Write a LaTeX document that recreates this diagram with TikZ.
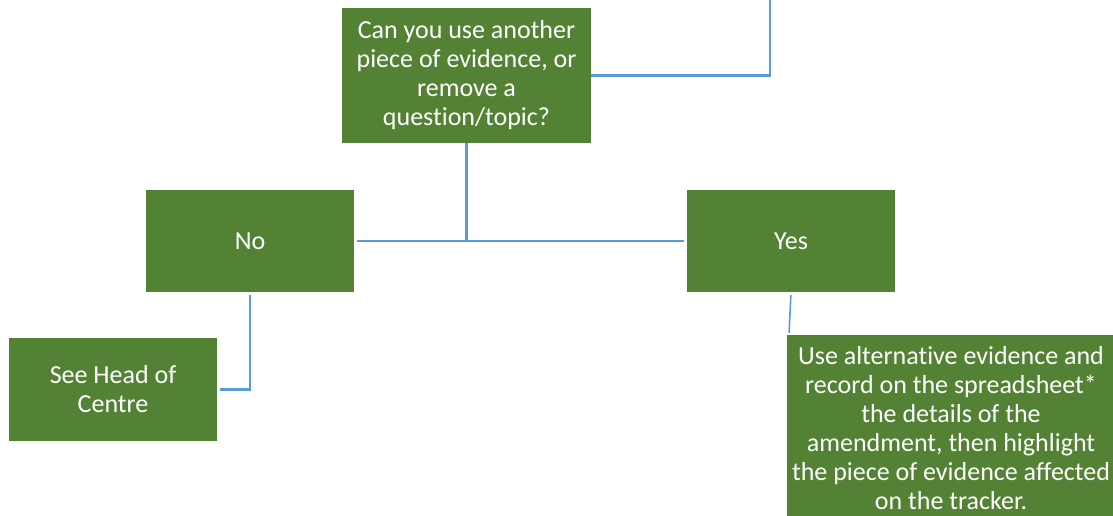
\documentclass[tikz,border=0pt]{standalone}
\usepackage{fontspec}
\setmainfont{Carlito}[Ligatures=NoCommon]
\usepackage{xcolor}
\definecolor{boxgreen}{HTML}{548235}
\definecolor{lineblue}{HTML}{5B9BD5}
\usetikzlibrary{calc,positioning}

\begin{document}
\begin{tikzpicture}[x=1pt,y=-1pt,
    greenbox/.style={fill=boxgreen, draw=none, text=white, align=center,
        inner sep=0pt, font=\fontsize{26}{29}\selectfont},
    link/.style={draw=lineblue, line width=2.6pt}]

\useasboundingbox (0,0) rectangle (1113,516);
\clip (0,0) rectangle (1113,516);

\node[greenbox, minimum width=249, minimum height=135] (question) at (466.5,75.5)
    {Can you use another\\ piece of evidence, or\\ remove a\\ question/topic?};
\node[greenbox, minimum width=208, minimum height=102] (no) at (250,241) {No};
\node[greenbox, minimum width=208, minimum height=102] (yes) at (791,241) {Yes};
\node[greenbox, minimum width=208, minimum height=103] (head) at (113,389.5)
    {See Head of\\ Centre};
\node[greenbox, minimum width=328, minimum height=186] (amend) at (951,428)
    {Use alternative evidence and\\ record on the spreadsheet*\\ the details of the\\
     amendment, then highlight\\ the piece of evidence affected\\ on the tracker.};

\coordinate (up) at (770,0);

\draw[link] (question.east) -| (up);
\draw[link] (question.south) -- (no.east -| question.south);
\draw[link, shorten <=3pt, shorten >=3pt] (no.east) -- (yes.west);
\draw[link, shorten <=3pt, shorten >=3pt] (no.south) |- (head.east);
\draw[link, line width=1.6pt, shorten <=3pt, shorten >=2pt]
    (yes.south) -- ([xshift=-2pt]yes.south |- amend.north);
\end{tikzpicture}
\end{document}
